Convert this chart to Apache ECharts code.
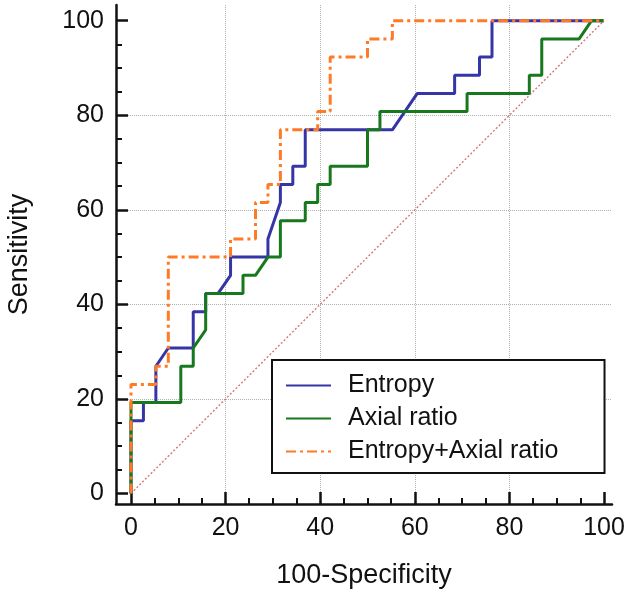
<!DOCTYPE html>
<html>
<head>
<meta charset="utf-8">
<script src="https://cdn.jsdelivr.net/npm/echarts@6/dist/echarts.min.js"></script>
<style>
html,body{margin:0;padding:0;background:#fff;}
#chart{width:630px;height:594px;}
</style>
</head>
<body>
<div id="chart"></div>
<script>
// ---- data ----
var seriesNames = ['Entropy', 'Axial ratio', 'Entropy+Axial ratio'];
var majorTicks = [0, 20, 40, 60, 80, 100];
var minorTicks = [5, 10, 15, 25, 30, 35, 45, 50, 55, 65, 70, 75, 85, 90, 95];

var entropyX = [0, 0, 2.63, 2.63, 5.26, 5.26, 7.89, 13.16, 13.16, 15.79, 15.79, 18.42, 21.05, 21.05, 28.95, 28.95, 31.58, 31.58, 34.21, 34.21, 36.84, 36.84, 55.26, 60.53, 68.42, 68.42, 73.68, 73.68, 76.32, 76.32, 100];
var entropyY = [0, 15.38, 15.38, 19.23, 19.23, 26.92, 30.77, 30.77, 38.46, 38.46, 42.31, 42.31, 46.15, 50, 50, 53.85, 61.54, 65.38, 65.38, 69.23, 69.23, 76.92, 76.92, 84.62, 84.62, 88.46, 88.46, 92.31, 92.31, 100, 100];

var axialX = [0, 0, 10.53, 10.53, 13.16, 13.16, 15.79, 15.79, 23.68, 23.68, 26.32, 28.95, 31.58, 31.58, 36.84, 36.84, 39.47, 39.47, 42.11, 42.11, 50, 50, 52.63, 52.63, 71.05, 71.05, 84.21, 84.21, 86.84, 86.84, 94.74, 97.37, 100];
var axialY = [0, 19.23, 19.23, 26.92, 26.92, 30.77, 34.62, 42.31, 42.31, 46.15, 46.15, 50, 50, 57.69, 57.69, 61.54, 61.54, 65.38, 65.38, 69.23, 69.23, 76.92, 76.92, 80.77, 80.77, 84.62, 84.62, 88.46, 88.46, 96.15, 96.15, 100, 100];

var combinedX = [0, 0, 5.26, 5.26, 7.89, 7.89, 21.05, 21.05, 26.32, 26.32, 28.95, 28.95, 31.58, 31.58, 39.47, 39.47, 42.11, 42.11, 50, 50, 55.26, 55.26, 100];
var combinedY = [0, 23.08, 23.08, 26.92, 26.92, 50, 50, 53.85, 53.85, 61.54, 61.54, 65.38, 65.38, 76.92, 76.92, 80.77, 80.77, 92.31, 92.31, 96.15, 96.15, 100, 100];

var refX = [0, 100];
var refY = [0, 100];

function pairs(xs, ys) { return xs.map(function (x, i) { return [x, ys[i]]; }); }

var FONT = '"Liberation Sans", Arial, sans-serif';
var chart = echarts.init(document.getElementById('chart'), null, { renderer: 'canvas' });

var axisLineStyle = { color: '#111', width: 2.5 };

chart.setOption({
  animation: false,
  backgroundColor: '#fff',
  grid: { left: 116, right: 18, top: 5, bottom: 90, containLabel: false, outerBoundsMode: 'none' },
  legend: {
    data: seriesNames,
    orient: 'vertical',
    left: 272,
    top: 360,
    align: 'left',
    itemWidth: 45,
    itemHeight: 14,
    itemGap: 8,
    padding: [13, 46, 9, 13],
    borderColor: '#111',
    borderWidth: 2,
    backgroundColor: '#fff',
    itemStyle: { opacity: 0 },
    textStyle: { fontFamily: FONT, fontSize: 25, color: '#111', lineHeight: 25, padding: [0, 0, 0, 12] }
  },
  xAxis: [
    {
      type: 'value', position: 'bottom',
      min: -3.17, max: 101.69,
      name: '100-Specificity', nameLocation: 'middle', nameGap: 58,
      nameTextStyle: { fontFamily: FONT, fontSize: 27, color: '#111' },
      axisLine: { show: true, onZero: false, lineStyle: axisLineStyle },
      axisTick: { show: true, inside: true, length: 12, customValues: majorTicks, lineStyle: axisLineStyle },
      axisLabel: { show: true, margin: 12, customValues: majorTicks, fontFamily: FONT, fontSize: 25, color: '#111' },
      splitLine: { show: true, showMinLine: false, showMaxLine: false, lineStyle: { color: '#b0b0b0', type: 'dotted', width: 1 } }
    },
    {
      type: 'value', position: 'bottom',
      min: -3.17, max: 101.69,
      axisLine: { show: false, onZero: false },
      axisTick: { show: true, inside: true, length: 6, customValues: minorTicks, lineStyle: { color: '#111', width: 2 } },
      axisLabel: { show: false },
      splitLine: { show: false }
    }
  ],
  yAxis: [
    {
      type: 'value', position: 'left',
      min: -2.22, max: 103.32,
      name: 'Sensitivity', nameLocation: 'middle', nameGap: 83,
      nameTextStyle: { fontFamily: FONT, fontSize: 27, color: '#111' },
      axisLine: { show: true, onZero: false, lineStyle: axisLineStyle },
      axisTick: { show: true, inside: true, length: 12, customValues: majorTicks, lineStyle: axisLineStyle },
      axisLabel: { show: true, margin: 12, customValues: majorTicks, fontFamily: FONT, fontSize: 25, color: '#111' },
      splitLine: { show: true, showMinLine: false, showMaxLine: false, lineStyle: { color: '#b0b0b0', type: 'dotted', width: 1 } }
    },
    {
      type: 'value', position: 'left',
      min: -2.22, max: 103.32,
      axisLine: { show: false, onZero: false },
      axisTick: { show: true, inside: true, length: 6, customValues: minorTicks, lineStyle: { color: '#111', width: 2 } },
      axisLabel: { show: false },
      splitLine: { show: false }
    }
  ],
  series: [
    {
      name: 'reference', type: 'line', xAxisIndex: 0, yAxisIndex: 0,
      data: pairs(refX, refY), symbol: 'none', silent: true,
      lineStyle: { color: '#d07a7a', width: 1.4, type: [2, 2] }, z: 1
    },
    {
      name: seriesNames[0], type: 'line', xAxisIndex: 0, yAxisIndex: 0,
      data: pairs(entropyX, entropyY), symbol: 'none',
      itemStyle: { color: '#3535a8' },
      lineStyle: { color: '#3535a8', width: 3 }, z: 2
    },
    {
      name: seriesNames[1], type: 'line', xAxisIndex: 0, yAxisIndex: 0,
      data: pairs(axialX, axialY), symbol: 'none',
      itemStyle: { color: '#17781d' },
      lineStyle: { color: '#17781d', width: 3 }, z: 3
    },
    {
      name: seriesNames[2], type: 'line', xAxisIndex: 0, yAxisIndex: 0,
      data: pairs(combinedX, combinedY), symbol: 'none',
      itemStyle: { color: '#ff7a26' },
      lineStyle: { color: '#ff7a26', width: 3, type: [10, 4, 3, 4] }, z: 4
    }
  ]
});
</script>
</body>
</html>
